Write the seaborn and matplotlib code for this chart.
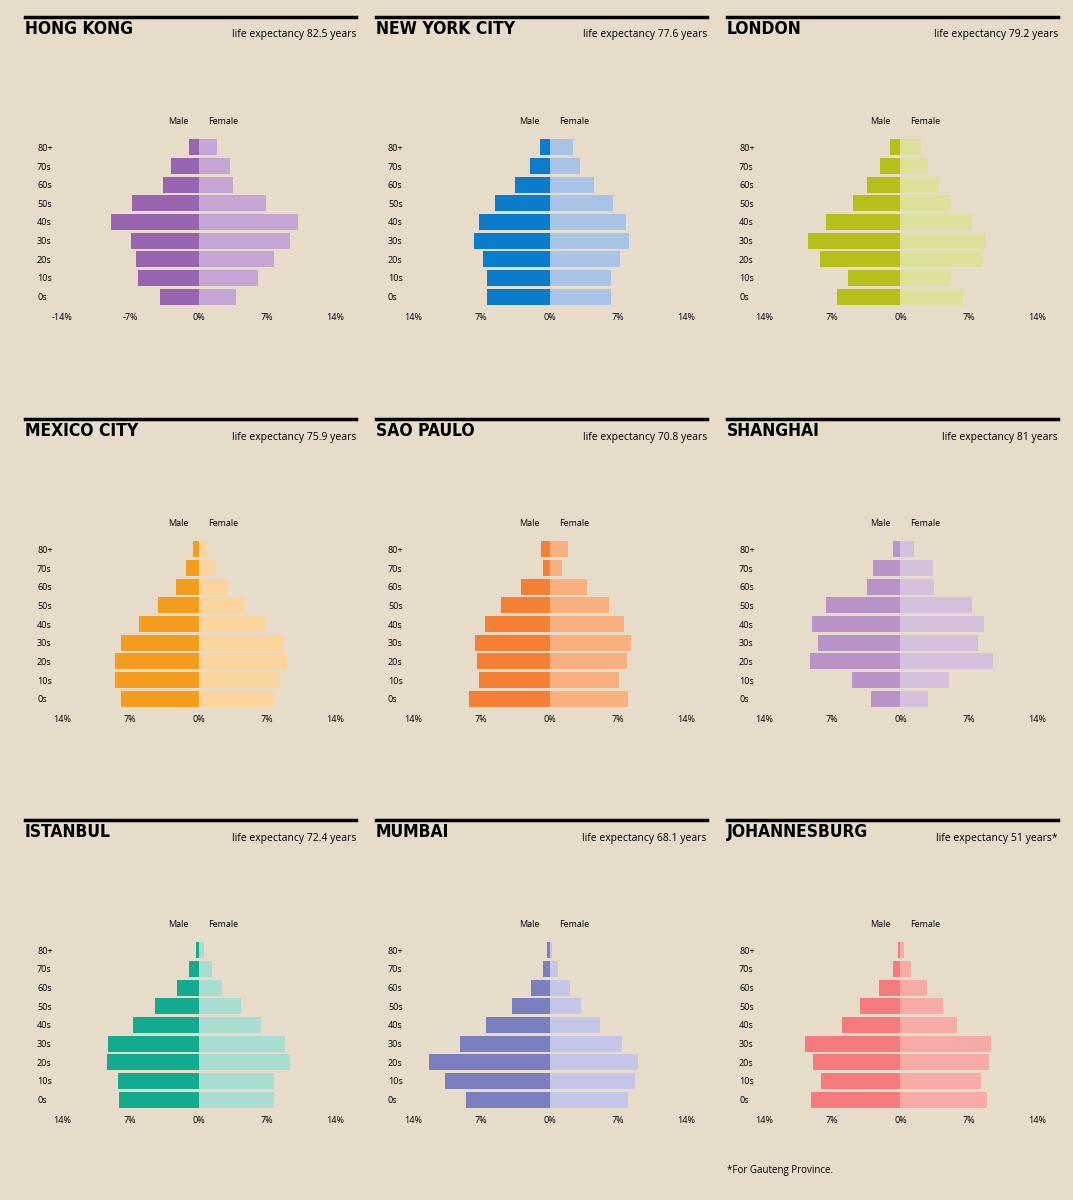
import matplotlib
matplotlib.use("Agg")
import matplotlib.pyplot as plt
import seaborn as sns
import pandas as pd

ages = ["0s", "10s", "20s", "30s", "40s", "50s", "60s", "70s", "80+"]
cities = ["HONG KONG", "NEW YORK CITY", "LONDON", "MEXICO CITY", "SÃO PAULO",
          "SHANGHAI", "ISTANBUL", "MUMBAI", "JOHANNESBURG"]
life_exp = ["life expectancy 82.5 years", "life expectancy 77.6 years",
            "life expectancy 79.2 years", "life expectancy 75.9 years",
            "life expectancy 70.8 years", "life expectancy 81 years",
            "life expectancy 72.4 years", "life expectancy 68.1 years",
            "life expectancy 51 years*"]

hk_m = [3.9, 6.2, 6.4, 6.9, 9.0, 6.8, 3.6, 2.8, 1.0]
hk_f = [3.8, 6.1, 7.7, 9.4, 10.2, 6.9, 3.5, 3.2, 1.9]
ny_m = [6.4, 6.4, 6.8, 7.7, 7.2, 5.6, 3.5, 2.0, 1.0]
ny_f = [6.3, 6.3, 7.2, 8.2, 7.8, 6.5, 4.6, 3.1, 2.4]
ld_m = [6.5, 5.4, 8.3, 9.5, 7.6, 4.9, 3.4, 2.1, 1.1]
ld_f = [6.4, 5.2, 8.5, 8.8, 7.3, 5.2, 3.9, 2.8, 2.1]
mx_m = [8.0, 8.6, 8.6, 8.0, 6.1, 4.2, 2.3, 1.3, 0.6]
mx_f = [7.7, 8.4, 9.1, 8.8, 6.9, 4.8, 3.0, 1.8, 0.9]
sp_m = [8.3, 7.2, 7.4, 7.6, 6.6, 5.0, 2.9, 0.7, 0.9]
sp_f = [8.0, 7.1, 7.9, 8.4, 7.6, 6.1, 3.8, 1.3, 1.9]
sh_m = [3.0, 5.0, 9.3, 8.5, 9.1, 7.6, 3.4, 2.8, 0.8]
sh_f = [2.8, 5.0, 9.5, 7.9, 8.6, 7.3, 3.4, 3.3, 1.4]
is_m = [8.2, 8.3, 9.4, 9.3, 6.7, 4.5, 2.2, 1.0, 0.3]
is_f = [7.7, 7.7, 9.4, 8.9, 6.4, 4.4, 2.4, 1.4, 0.6]
mu_m = [8.6, 10.7, 12.4, 9.2, 6.5, 3.8, 1.9, 0.7, 0.3]
mu_f = [8.0, 8.8, 9.1, 7.4, 5.2, 3.2, 2.1, 0.9, 0.3]
jb_m = [9.2, 8.2, 9.0, 9.8, 6.0, 4.2, 2.2, 0.8, 0.3]
jb_f = [8.9, 8.3, 9.1, 9.3, 5.8, 4.4, 2.7, 1.1, 0.4]

males = [hk_m, ny_m, ld_m, mx_m, sp_m, sh_m, is_m, mu_m, jb_m]
females = [hk_f, ny_f, ld_f, mx_f, sp_f, sh_f, is_f, mu_f, jb_f]
male_colors = ["#9864b0", "#0a7ccc", "#b5bf1a", "#f39c1e", "#f47f35",
               "#b893c8", "#12ab8f", "#7a7fc0", "#f47a7e"]
female_colors = ["#c4a5d4", "#a7c4e6", "#dde09a", "#fcd49e", "#f8b07e",
                 "#d5c0dc", "#a9ddd2", "#c3c6e6", "#f8aaa6"]
tick_labels_first = ["-14%", "-7%", "0%", "7%", "14%"]
tick_labels = ["14%", "7%", "0%", "7%", "14%"]

BG = "#e6dcc9"
W, H = 1073, 1200
fig = plt.figure(figsize=(W / 100, H / 100), dpi=100, facecolor=BG)

col_x = [25, 376, 727]
row_y = [17, 419, 820]
order = ages[::-1]

for i, city in enumerate(cities):
    r, c = divmod(i, 3)
    x0, y0 = col_x[c], row_y[r]
    fig.add_artist(plt.Line2D([x0 / W, (x0 + 331) / W], [1 - y0 / H, 1 - y0 / H],
                              color="black", lw=2.5))
    fig.text(x0 / W, 1 - (y0 + 12) / H, city, fontsize=12.5, fontweight="heavy",
             family="DejaVu Sans", fontstretch="condensed", va="center", ha="left")
    fig.text((x0 + 331) / W, 1 - (y0 + 18) / H, life_exp[i], fontsize=7.5,
             va="center", ha="right", family="Open Sans")
    ax_left = x0 + 37
    ax_top = y0 + 121
    ax_h = 168
    ax = fig.add_axes([ax_left / W, 1 - (ax_top + ax_h) / H, 273 / W, ax_h / H])
    ax.set_facecolor(BG)
    df = pd.DataFrame({"age": ages, "male": [-v for v in males[i]], "female": females[i]})
    sns.barplot(data=df, y="age", x="male", order=order, color=male_colors[i],
                saturation=1, width=0.85, ax=ax, orient="h")
    sns.barplot(data=df, y="age", x="female", order=order, color=female_colors[i],
                saturation=1, width=0.85, ax=ax, orient="h")
    ax.set_xlim(-14, 14)
    ax.set_xticks([-14, -7, 0, 7, 14])
    ax.set_xticklabels(tick_labels_first if i == 0 else tick_labels)
    ax.set_xlabel("")
    ax.set_ylabel("")
    for s in ax.spines.values():
        s.set_visible(False)
    ax.tick_params(axis="x", length=0, labelsize=6.5, pad=5)
    ax.tick_params(axis="y", length=0, labelsize=6.5, pad=18)
    for t in ax.get_yticklabels():
        t.set_horizontalalignment("left")
    for t in ax.get_xticklabels() + ax.get_yticklabels():
        t.set_family("Open Sans")
    ax.text(-1.0, 1.07, "Male", transform=ax.get_xaxis_transform(), ha="right",
            va="bottom", fontsize=6.5, family="Open Sans")
    ax.text(1.0, 1.07, "Female", transform=ax.get_xaxis_transform(), ha="left",
            va="bottom", fontsize=6.5, family="Open Sans")

fig.text(727 / W, 1 - 1170 / H, "*For Gauteng Province.", fontsize=7,
         family="Open Sans", va="center")

fig.savefig("out.png", dpi=100, facecolor=BG)
